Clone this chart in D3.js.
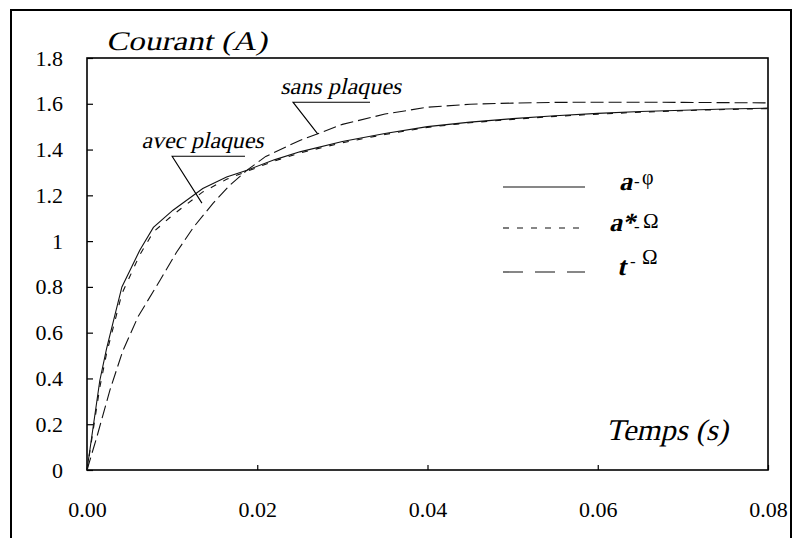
<!DOCTYPE html>
<html>
<head>
<meta charset="utf-8">
<script src="https://cdn.jsdelivr.net/npm/d3@7"></script>
<style>
  body { margin: 0; background: #fff; }
  svg { display: block; }
</style>
</head>
<body>
<svg id="chart" width="794" height="538"></svg>
<script>
// Current rise I(t) for the three formulations, with and without the plates.

// avec plaques, formulation a-φ (solid)
const tAphiAvec = [0, 0.0015, 0.0023, 0.0041, 0.0062, 0.0078, 0.0101, 0.0136, 0.0164, 0.0188, 0.022, 0.025, 0.030, 0.035, 0.040, 0.045, 0.050, 0.055, 0.060, 0.065, 0.070, 0.075, 0.080];
const iAphiAvec = [0, 0.39, 0.53, 0.80, 0.96, 1.06, 1.135, 1.23, 1.28, 1.31, 1.355, 1.39, 1.435, 1.47, 1.50, 1.52, 1.535, 1.548, 1.558, 1.566, 1.572, 1.577, 1.581];

// avec plaques, formulation a*-Ω (short dashes)
const tAstarAvec = [0, 0.0015, 0.0023, 0.0041, 0.0062, 0.0078, 0.0101, 0.0136, 0.0164, 0.0188, 0.022, 0.025, 0.030, 0.035, 0.040, 0.045, 0.050, 0.055, 0.060, 0.065, 0.070, 0.075, 0.080];
const iAstarAvec = [0, 0.36, 0.51, 0.77, 0.94, 1.04, 1.115, 1.215, 1.27, 1.305, 1.35, 1.385, 1.43, 1.466, 1.497, 1.517, 1.532, 1.545, 1.555, 1.563, 1.57, 1.575, 1.579];

// sans plaques, formulation t-Ω (long dashes)
const tTomSans = [0, 0.0012, 0.0027, 0.0042, 0.006, 0.0086, 0.0105, 0.0125, 0.0148, 0.0168, 0.0188, 0.021, 0.025, 0.0272, 0.030, 0.035, 0.040, 0.045, 0.050, 0.055, 0.060, 0.065, 0.070, 0.075, 0.080];
const iTomSans = [0, 0.15, 0.35, 0.52, 0.67, 0.83, 0.95, 1.06, 1.165, 1.245, 1.31, 1.37, 1.44, 1.47, 1.51, 1.555, 1.585, 1.598, 1.603, 1.606, 1.607, 1.607, 1.606, 1.605, 1.604];

const yTicks = [0, 0.2, 0.4, 0.6, 0.8, 1, 1.2, 1.4, 1.6, 1.8];
const xTicks = [0, 0.02, 0.04, 0.06, 0.08];

const legendHeads = ["a", "a*", "t"];
const legendSymbols = ["φ", "Ω", "Ω"];
const legendDashes = ["none", "6,8", "20,12"];

const svg = d3.select("#chart");
const FONT = "Liberation Serif";

// serif text slanted by hand (no italic serif face available)
function slanted(parent, px, py, size, str, width) {
  const t = parent.append("text")
    .attr("transform", `translate(${px},${py}) skewX(-13)`)
    .style("font-family", FONT).attr("font-size", size).attr("fill", "#000")
    .text(str);
  if (width) t.attr("textLength", width).attr("lengthAdjust", "spacingAndGlyphs");
  return t;
}

// frame around the whole figure
svg.append("rect")
  .attr("x", 11).attr("y", 10).attr("width", 780).attr("height", 545)
  .attr("fill", "none").attr("stroke", "#000").attr("stroke-width", 2);

const x = d3.scaleLinear().domain([0, 0.08]).range([87, 768]);
const y = d3.scaleLinear().domain([0, 1.8]).range([470, 58]);

// axes with inward ticks
const yAxis = svg.append("g")
  .attr("transform", `translate(${x(0)},0)`)
  .call(d3.axisLeft(y).tickValues(yTicks).tickSizeInner(-6).tickSizeOuter(0).tickPadding(24)
    .tickFormat(d => String(+d.toFixed(1))));
const xAxis = svg.append("g")
  .attr("transform", `translate(0,${y(0)})`)
  .call(d3.axisBottom(x).tickValues(xTicks).tickSizeInner(-5).tickSizeOuter(0).tickPadding(31)
    .tickFormat(d3.format(".2f")));
[yAxis, xAxis].forEach(g => {
  g.select(".domain").remove();
  g.selectAll(".tick line").attr("stroke", "#000").attr("stroke-width", 1.2);
  g.selectAll(".tick text").attr("fill", "#000")
    .style("font-family", FONT).style("font-size", "22px");
});

// plot box
svg.append("rect")
  .attr("x", x(0)).attr("y", y(1.8))
  .attr("width", x(0.08) - x(0)).attr("height", y(0) - y(1.8))
  .attr("fill", "none").attr("stroke", "#000").attr("stroke-width", 1.6);

const line = d3.line().x(d => x(d[0])).y(d => y(d[1]));
const series = [
  { t: tAphiAvec, i: iAphiAvec, dash: "none" },
  { t: tAstarAvec, i: iAstarAvec, dash: "6,8" },
  { t: tTomSans, i: iTomSans, dash: "13,5" }
];
svg.append("g").selectAll("path").data(series).join("path")
  .attr("d", s => line(d3.zip(s.t, s.i)))
  .attr("fill", "none").attr("stroke", "#111").attr("stroke-width", 1.1)
  .attr("stroke-dasharray", s => s.dash);

// axis titles
slanted(svg, 106, 50, 27, "Courant (A)", 161);
slanted(svg, 606, 440, 30, "Temps (s)", 122);

// callouts
const interp = (ts, is, t) => {
  const k = d3.bisectRight(ts, t) - 1;
  const f = (t - ts[k]) / (ts[k + 1] - ts[k]);
  return is[k] + f * (is[k + 1] - is[k]);
};
function callout(label, tx, ty, width, hx0, hx1, hy, px, py) {
  slanted(svg, x(tx), y(ty), 23, label, width);
  svg.append("path")
    .attr("d", `M${x(hx1)},${y(hy)}H${x(hx0)}L${x(px)},${y(py)}`)
    .attr("fill", "none").attr("stroke", "#000").attr("stroke-width", 1.1);
}
callout("sans plaques", 0.0227, 1.642, 121, 0.0242, 0.03325, 1.607, 0.0271, interp(tTomSans, iTomSans, 0.0271));
callout("avec plaques", 0.0064, 1.406, 122, 0.0100, 0.01856, 1.371, 0.0135, 1.166);

// legend
const legY = [187, 228, 272];
const legHeadX = [619, 609, 617];
const legHyphen = [[634, 187], [634, 232], [630, 267]];
const legSym = [[642, 184, 20], [643, 228, 21], [642, 264, 21]];
const leg = svg.append("g");
legendHeads.forEach((head, k) => {
  leg.append("line").attr("x1", 503).attr("x2", 585).attr("y1", legY[k]).attr("y2", legY[k])
    .attr("stroke", "#111").attr("stroke-width", 1.1).attr("stroke-dasharray", legendDashes[k]);
  slanted(leg, legHeadX[k], legY[k] + 3 + (k === 0 ? 0 : 0), 26, head).attr("font-weight", "bold");
  leg.append("text").attr("x", legHyphen[k][0]).attr("y", legHyphen[k][1])
    .style("font-family", FONT).attr("font-size", 17).text("-");
  leg.append("text").attr("x", legSym[k][0]).attr("y", legSym[k][1])
    .style("font-family", FONT).attr("font-size", legSym[k][2]).text(legendSymbols[k]);
});
</script>
</body>
</html>
